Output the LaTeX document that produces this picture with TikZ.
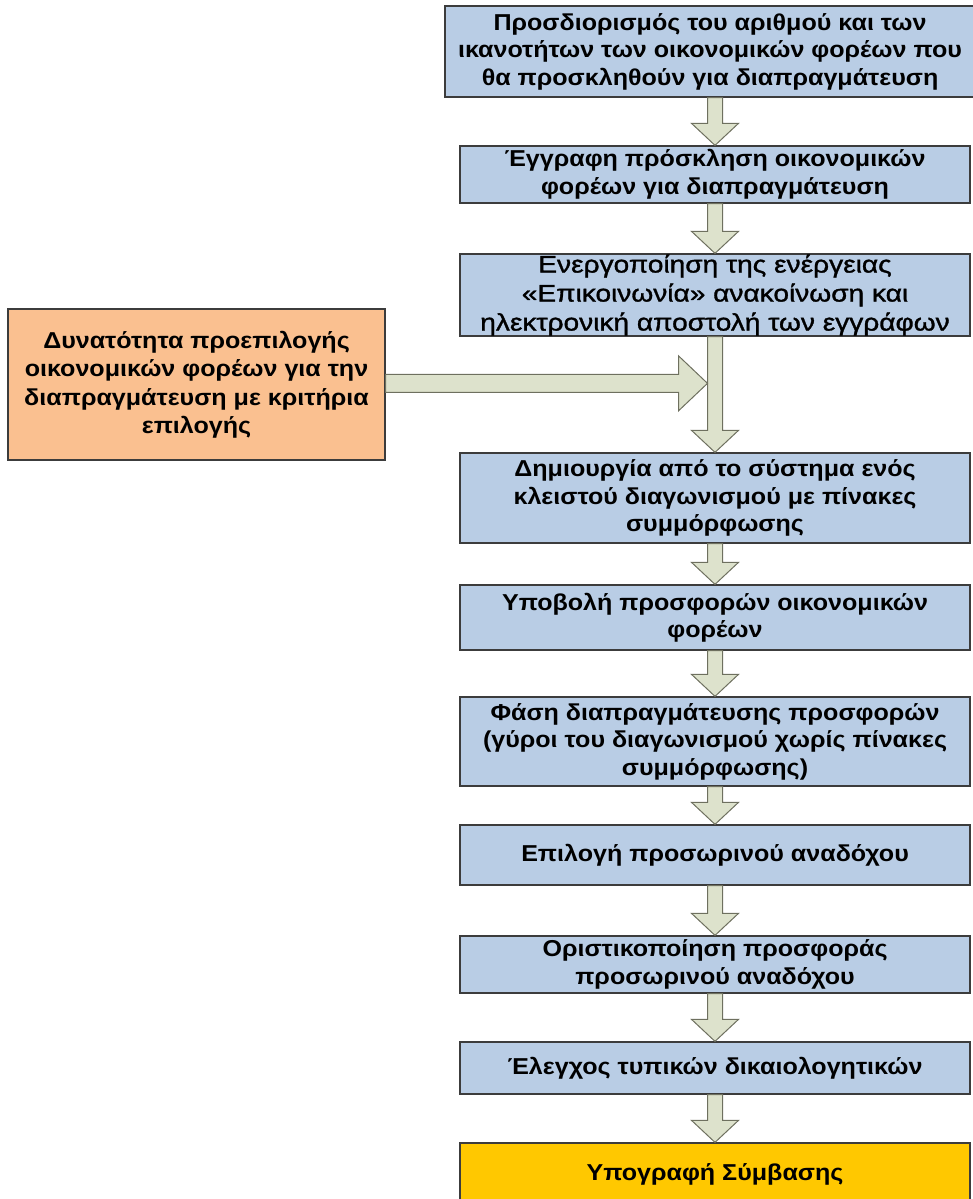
\documentclass[tikz,border=0pt]{standalone}
\usepackage{fontspec}
\setmainfont{Liberation Sans}[FakeStretch=1.09]
\newfontfamily\widefont{Liberation Sans}[FakeStretch=1.17, FakeBold=1.3]
\usetikzlibrary{calc}
\definecolor{boxblue}{RGB}{185,205,229}
\definecolor{boxorange}{RGB}{250,192,144}
\definecolor{boxgold}{RGB}{255,200,0}
\definecolor{arrfill}{RGB}{221,226,204}
\definecolor{arrdraw}{RGB}{110,112,95}
\definecolor{boxline}{RGB}{60,60,60}
\tikzset{
  stepbox/.style={draw=boxline, line width=1.3pt, fill=boxblue, rectangle, inner sep=0pt,
    align=center, font=\bfseries\fontsize{23}{27.5}\selectfont, text=black},
  lightbox/.style={stepbox, font=\widefont\fontsize{24}{29}\selectfont},
  optbox/.style={stepbox, fill=boxorange, font=\bfseries\fontsize{23}{28.5}\selectfont},
  endbox/.style={stepbox, fill=boxgold},
  blockarr/.style={draw=arrdraw, fill=arrfill, line width=1pt, line join=miter}
}
\newcommand\vblock[2]{%
  \path[blockarr] let \p1=(#1.south), \p2=(#2.north) in
   (\x2-7.5pt,\y1) -- (\x2+7.5pt,\y1) -- (\x2+7.5pt,\y2+22pt) -- (\x2+23.5pt,\y2+22pt)
   -- (\x2,\y2) -- (\x2-23.5pt,\y2+22pt) -- (\x2-7.5pt,\y2+22pt) -- cycle;}
\begin{document}
\begin{tikzpicture}[x=1pt,y=-1pt]
\useasboundingbox (0,0) rectangle (973,1199);
\node[stepbox, minimum width=530pt, minimum height=91pt] (b1) at (710,51.5)
  {Προσδιορισμός του αριθμού και των\\ικανοτήτων των οικονομικών φορέων που\\θα προσκληθούν για διαπραγμάτευση};
\node[stepbox, minimum width=510pt, minimum height=57pt] (b2) at (715,174.5)
  {Έγγραφη πρόσκληση οικονομικών\\φορέων για διαπραγμάτευση};
\node[lightbox, minimum width=510pt, minimum height=82pt] (b3) at (715,295)
  {Ενεργοποίηση της ενέργειας\\«Επικοινωνία» ανακοίνωση και\\ηλεκτρονική αποστολή των εγγράφων};
\node[optbox, minimum width=377pt, minimum height=151pt] (opt) at (196.5,384.5)
  {Δυνατότητα προεπιλογής\\οικονομικών φορέων για την\\διαπραγμάτευση με κριτήρια\\επιλογής};
\node[stepbox, minimum width=510pt, minimum height=90pt] (b4) at (715,498)
  {Δημιουργία από το σύστημα ενός\\κλειστού διαγωνισμού με πίνακες\\συμμόρφωσης};
\node[stepbox, minimum width=510pt, minimum height=65pt] (b5) at (715,617.5)
  {Υποβολή προσφορών οικονομικών\\φορέων};
\node[stepbox, minimum width=510pt, minimum height=89pt] (b6) at (715,741.5)
  {Φάση διαπραγμάτευσης προσφορών\\(γύροι του διαγωνισμού χωρίς πίνακες\\συμμόρφωσης)};
\node[stepbox, minimum width=510pt, minimum height=60pt] (b7) at (715,855)
  {Επιλογή προσωρινού αναδόχου};
\node[stepbox, minimum width=510pt, minimum height=57pt] (b8) at (715,964.5)
  {Οριστικοποίηση προσφοράς\\προσωρινού αναδόχου};
\node[stepbox, minimum width=510pt, minimum height=52pt] (b9) at (715,1068)
  {Έλεγχος τυπικών δικαιολογητικών};
\node[endbox, minimum width=510pt, minimum height=62pt] (b10) at (715,1174)
  {Υπογραφή Σύμβασης};
% vertical block arrows
\vblock{b1}{b2}
\vblock{b2}{b3}
\vblock{b3}{b4}
\vblock{b4}{b5}
\vblock{b5}{b6}
\vblock{b6}{b7}
\vblock{b7}{b8}
\vblock{b8}{b9}
\vblock{b9}{b10}
% horizontal block arrow from the optional box to the vertical arrow shaft
\coordinate (join) at ($(b4.north)+(-7.5,-69)$);
\path[blockarr] let \p1=(opt.east), \p2=(join) in
   (\x1,\y2-9pt) -- (\x2-29pt,\y2-9pt) -- (\x2-29pt,\y2-27.5pt) -- (\x2,\y2)
   -- (\x2-29pt,\y2+27.5pt) -- (\x2-29pt,\y2+9pt) -- (\x1,\y2+9pt) -- cycle;
\end{tikzpicture}
\end{document}
